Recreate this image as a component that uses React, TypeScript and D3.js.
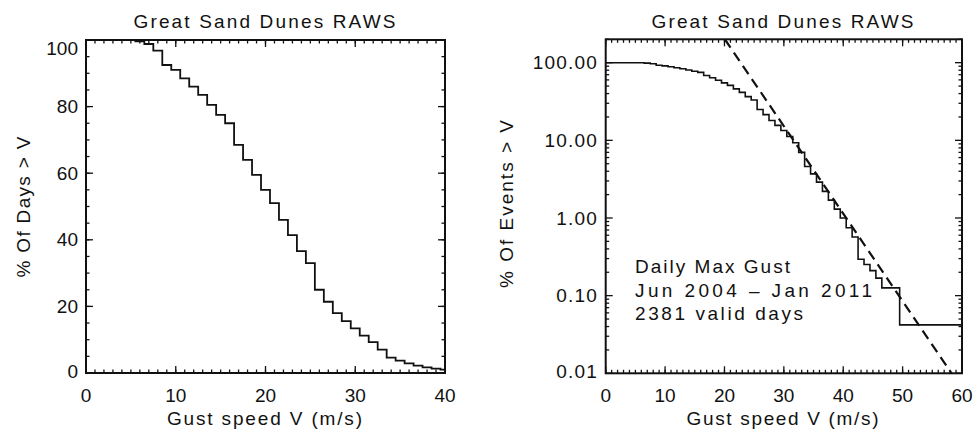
import React from "react";
import * as d3 from "d3";

// ---- Data ----
const speeds: number[] = [
  0, 1, 2, 3, 4, 5, 6, 7, 8, 9, 10, 11, 12, 13, 14, 15, 16, 17, 18, 19, 20,
  21, 22, 23, 24, 25, 26, 27, 28, 29, 30, 31, 32, 33, 34, 35, 36, 37, 38, 39, 40,
  41, 42, 43, 44, 45, 46, 47, 48, 49, 50, 51, 52, 53, 54, 55, 56, 57, 58, 59, 60,
];
// % of days with daily max gust > V
const pctExceed: number[] = [
  100, 100, 100, 100, 100, 100, 99.6, 98.8, 96.8, 92.5, 91, 88.5, 86, 83.5, 80.5, 77.5, 75, 68.5, 64, 59.5, 55,
  51, 46, 41.4, 36.6, 33, 25, 21.4, 18, 15.6, 13.4, 11.2, 9.3, 7, 4.6, 3.7, 2.9, 2.2, 1.7, 1.3, 1.0,
  0.75, 0.57, 0.294, 0.252, 0.21, 0.168, 0.126, 0.126, 0.126, 0.042, 0.042, 0.042, 0.042, 0.042, 0.042, 0.042, 0.042, 0.042, 0.042, 0.042,
];
// dashed fit line end points (speed, %)
const fitSpeeds: number[] = [20.07, 58.25];
const fitPct: number[] = [200, 0.01];

const leftXTicks: number[] = [0, 10, 20, 30, 40];
const leftYTicks: number[] = [0, 20, 40, 60, 80, 100];
const rightXTicks: number[] = [0, 10, 20, 30, 40, 50, 60];
const rightYTicks: number[] = [0.01, 0.1, 1, 10, 100];
const rightYLabels: string[] = ["0.01", "0.10", "1.00", "10.00", "100.00"];

const titleText = "Great Sand Dunes RAWS";
const xTitle = "Gust speed V (m/s)";
const leftYTitle = "% Of Days > V";
const rightYTitle = "% Of Events > V";
const noteLines: string[] = ["Daily Max Gust", "Jun 2004 – Jan 2011", "2381 valid days"];
const noteWidths: number[] = [155, 237, 168];

const FONT = "'Liberation Sans', Arial, Helvetica, sans-serif";
const INK = "#111";

type Pt = [number, number];

function BoxTicks({
  x, y, xMajor, xMinor, yMajor, yMinor,
}: {
  x: (v: number) => number; y: (v: number) => number;
  xMajor: number[]; xMinor: number[]; yMajor: number[]; yMinor: number[];
}) {
  const [x0, x1] = [x(xMajor[0]), x(xMajor[xMajor.length - 1])];
  const yr = (y as any).range() as number[];
  const yb = yr[0], yt = yr[1];
  const M = 7, m = 3.5;
  const lines: JSX.Element[] = [];
  const addX = (v: number, len: number, k: string) => {
    const px = x(v);
    lines.push(<line key={"xb" + k} x1={px} x2={px} y1={yb} y2={yb - len} />);
    lines.push(<line key={"xt" + k} x1={px} x2={px} y1={yt} y2={yt + len} />);
  };
  const addY = (v: number, len: number, k: string) => {
    const py = y(v);
    lines.push(<line key={"yl" + k} x1={x0} x2={x0 + len} y1={py} y2={py} />);
    lines.push(<line key={"yr" + k} x1={x1} x2={x1 - len} y1={py} y2={py} />);
  };
  xMinor.forEach((v, i) => addX(v, m, "m" + i));
  xMajor.forEach((v, i) => addX(v, M, "M" + i));
  yMinor.forEach((v, i) => addY(v, m, "m" + i));
  yMajor.forEach((v, i) => addY(v, M, "M" + i));
  return (
    <g stroke={INK} strokeWidth={1.3}>
      {lines}
      <rect x={x0} y={yt} width={x1 - x0} height={yb - yt} fill="none" strokeWidth={2} />
    </g>
  );
}

export default function App() {
  // ---- Left panel ----
  const xL = d3.scaleLinear().domain([0, 40]).range([86, 445]);
  const yL = d3.scaleLinear().domain([0, 100]).range([373, 40]);
  const leftPts: Pt[] = speeds
    .map((s, i) => [s, pctExceed[i]] as Pt)
    .filter((p) => p[0] <= 40);
  const stepL = d3
    .line<Pt>()
    .x((d) => xL(d[0]))
    .y((d) => yL(d[1]))
    .curve(d3.curveStep);

  // ---- Right panel ----
  const xR = d3.scaleLinear().domain([0, 60]).range([605.7, 962]);
  const yR = d3.scaleLog().domain([0.01, 200]).range([373.3, 39.3]);
  const rightPts: Pt[] = speeds.map((s, i) => [s, pctExceed[i]] as Pt);
  const stepR = d3
    .line<Pt>()
    .x((d) => xR(d[0]))
    .y((d) => yR(d[1]))
    .curve(d3.curveStep);
  const fitPts: Pt[] = fitSpeeds.map((s, i) => [s, fitPct[i]] as Pt);
  const fitLine = d3
    .line<Pt>()
    .x((d) => xR(d[0]))
    .y((d) => yR(d[1]));

  const leftXMinor = d3.range(0, 41, 1);
  const leftYMinor = d3.range(0, 101, 5);
  const rightXMinor = d3.range(0, 61, 1);
  const rightYMinor: number[] = [];
  [0.01, 0.1, 1, 10, 100].forEach((dec) => {
    for (let k = 2; k <= 9; k++) {
      const v = dec * k;
      if (v <= 200) rightYMinor.push(v);
    }
  });

  const txt = { fontFamily: FONT, fontSize: 19, fill: INK } as const;

  return (
    <svg
      width={974}
      height={431}
      viewBox="0 0 974 431"
      style={{ position: "absolute", left: 0, top: 0, background: "#fff" }}
    >
      <rect x={0} y={0} width={974} height={431} fill="#fff" />

      {/* ---------- Left panel ---------- */}
      <text {...txt} x={264.5} y={28.3} textAnchor="middle" textLength={262} lengthAdjust="spacing">
        {titleText}
      </text>
      <BoxTicks x={xL} y={yL} xMajor={leftXTicks} xMinor={leftXMinor} yMajor={leftYTicks} yMinor={leftYMinor} />
      <path d={stepL(leftPts) || ""} fill="none" stroke={INK} strokeWidth={1.8} />
      {leftXTicks.map((t) => (
        <text key={"lx" + t} {...txt} x={xL(t)} y={401.5} textAnchor="middle">
          {t}
        </text>
      ))}
      {leftYTicks.map((t) => (
        <text
          key={"ly" + t}
          {...txt}
          x={78}
          y={yL(t) + (t === 100 ? 8 : t === 0 ? -2 : 0)}
          dy="0.35em"
          textAnchor="end"
        >
          {t}
        </text>
      ))}
      <text {...txt} x={264.5} y={425} textAnchor="middle" textLength={195} lengthAdjust="spacing">
        {xTitle}
      </text>
      <text
        {...txt}
        transform="translate(30,207) rotate(-90)"
        textAnchor="middle"
        textLength={141}
        lengthAdjust="spacing"
      >
        {leftYTitle}
      </text>

      {/* ---------- Right panel ---------- */}
      <text {...txt} x={782.5} y={28.3} textAnchor="middle" textLength={262} lengthAdjust="spacing">
        {titleText}
      </text>
      <defs>
        <clipPath id="clipR">
          <rect x={605.7} y={39.3} width={962 - 605.7} height={373.3 - 39.3} />
        </clipPath>
      </defs>
      <BoxTicks x={xR} y={yR} xMajor={rightXTicks} xMinor={rightXMinor} yMajor={rightYTicks} yMinor={rightYMinor} />
      <g clipPath="url(#clipR)">
        <path d={fitLine(fitPts) || ""} fill="none" stroke={INK} strokeWidth={2.2} strokeDasharray="10,6" />
        <path d={stepR(rightPts) || ""} fill="none" stroke={INK} strokeWidth={1.6} />
      </g>
      {rightXTicks.map((t) => (
        <text key={"rx" + t} {...txt} x={xR(t)} y={401.5} textAnchor="middle">
          {t}
        </text>
      ))}
      {rightYTicks.map((t, i) => (
        <text
          key={"ry" + t}
          {...txt}
          x={598}
          y={yR(t) + (i === 0 ? -2 : 0)}
          dy="0.35em"
          textAnchor="end"
          letterSpacing={1.2}
        >
          {rightYLabels[i]}
        </text>
      ))}
      <text {...txt} x={782.5} y={425} textAnchor="middle" textLength={192} lengthAdjust="spacing">
        {xTitle}
      </text>
      <text
        {...txt}
        transform="translate(513,204) rotate(-90)"
        textAnchor="middle"
        textLength={168}
        lengthAdjust="spacing"
      >
        {rightYTitle}
      </text>
      {noteLines.map((l, i) => (
        <text
          key={"note" + i}
          {...txt}
          x={635}
          y={273.3 + i * 23.4}
          textLength={noteWidths[i]}
          lengthAdjust="spacing"
        >
          {l}
        </text>
      ))}
    </svg>
  );
}
